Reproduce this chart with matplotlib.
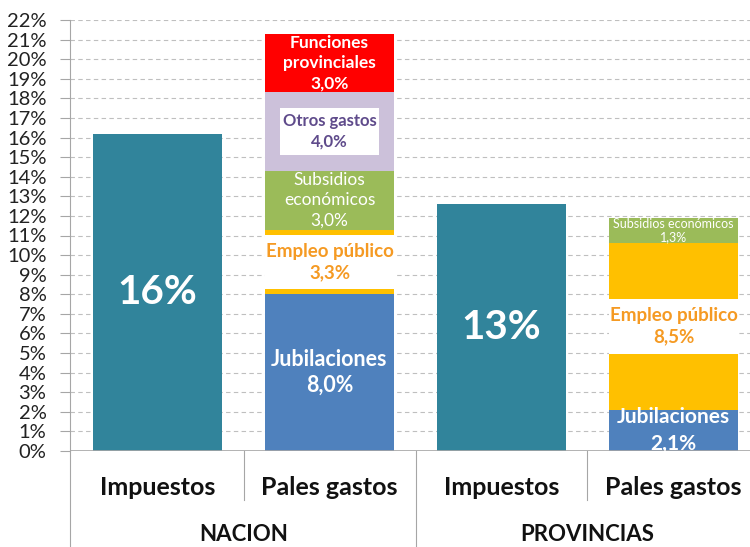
import numpy as np
import matplotlib.pyplot as plt

plt.rcParams['font.family'] = ['Lato', 'DejaVu Sans']

# data
groups = ['NACION', 'PROVINCIAS']
categories = ['Impuestos', 'Pales gastos', 'Impuestos', 'Pales gastos']
impuestos = [16.2, 12.6]
impuestos_labels = ['16%', '13%']

componentes = ['Jubilaciones', 'Empleo público', 'Subsidios económicos',
               'Otros gastos', 'Funciones provinciales']
nacion_gastos = [8.0, 3.3, 3.0, 4.0, 3.0]
provincias_gastos = [2.1, 8.5, 1.3]
nacion_nombres = ['Jubilaciones', 'Empleo público', 'Subsidios\neconómicos',
                  'Otros gastos', 'Funciones\nprovinciales']
provincias_nombres = ['Jubilaciones', 'Empleo público', 'Subsidios económicos']

# styles
teal = '#31849B'
seg_colors = ['#4F81BD', '#FFC000', '#9BBB59', '#CCC1DA', '#FF0000']
txt_colors = ['white', '#F59A23', 'white', '#5F4B8B', 'white']
txt_weight = ['bold', 'bold', 'normal', 'bold', 'bold']
nacion_sizes = [15.5, 13.5, 12.5, 12, 12.5]
provincias_sizes = [15, 13.5, 9]
nacion_spacing = [1.3, 1.3, 1.35, 1.35, 1.35]
provincias_spacing = [1.45, 1.3, 1.1]
width = 0.75
box_h = 2.8          # white label background for "Empleo público"
otros_box = (0.58, 2.4)

fig = plt.figure(figsize=(7.5, 5.47), dpi=100)
ax = fig.add_axes([70 / 750, 1 - 451 / 547, 680 / 750, 431 / 547])

x = np.arange(len(categories))
imp_x = x[[0, 2]]
gas_x = x[[1, 3]]

ax.bar(imp_x, impuestos, width, color=teal, zorder=2)
for xi, v, lab in zip(imp_x, impuestos, impuestos_labels):
    ax.text(xi, v / 2, lab, ha='center', va='center', color='white',
            fontsize=29, fontweight='bold', zorder=5)


def stack(xi, vals, nombres, sizes, spacing):
    bottom = 0.0
    for i, v in enumerate(vals):
        ax.bar(xi, v, width, bottom=bottom, color=seg_colors[i], zorder=2)
        mid = bottom + v / 2
        if i == 1:
            ax.bar(xi, box_h, width, bottom=mid - box_h / 2, color='white', zorder=3)
        if i == 3:
            ax.bar(xi, otros_box[1], otros_box[0], bottom=mid - otros_box[1] / 2,
                   color='white', zorder=3)
        lab = nombres[i] + '\n' + f'{v:.1f}'.replace('.', ',') + '%'
        ax.text(xi, mid, lab, ha='center', va='center', color=txt_colors[i],
                fontsize=sizes[i], fontweight=txt_weight[i], linespacing=spacing[i],
                zorder=5, clip_on=True)
        bottom += v


stack(gas_x[0], nacion_gastos, nacion_nombres, nacion_sizes, nacion_spacing)
stack(gas_x[1], provincias_gastos, provincias_nombres, provincias_sizes, provincias_spacing)

ax.set_xlim(-0.509, 3.445)
ax.set_ylim(0, 22)
ax.set_yticks(np.arange(0, 23, 1))
ax.set_yticklabels([f'{t}%' for t in range(0, 23)], fontsize=14.5, color='#222222')
ax.tick_params(axis='y', length=7, color='#A6A6A6', width=0.8, pad=10)
ax.set_xticks([])
ax.grid(axis='y', color='#BFBFBF', linestyle=(0, (4, 3)), linewidth=0.8, zorder=0)
for s in ['top', 'right', 'bottom']:
    ax.spines[s].set_visible(False)
ax.spines['left'].set_color('#A6A6A6')
ax.spines['left'].set_linewidth(0.8)
ax.axhline(0, color='#A6A6A6', linewidth=1.2, zorder=4)

# category axis
tr = ax.get_xaxis_transform()
ax.plot([-0.509, -0.509], [0, -0.223], color='#A6A6A6', lw=0.8, transform=tr, clip_on=False)
for xs in [0.5, 2.5]:
    ax.plot([xs, xs], [0, -0.114], color='#A6A6A6', lw=0.8, transform=tr, clip_on=False)
ax.plot([1.5, 1.5], [0, -0.223], color='#A6A6A6', lw=0.8, transform=tr, clip_on=False)
for xi, c in zip(x, categories):
    ax.text(xi, -0.084, c, ha='center', va='center', fontsize=18,
            fontweight='bold', color='#111111', transform=tr)
for gx, g in zip([0.5, 2.5], groups):
    ax.text(gx, -0.193, g, ha='center', va='center', fontsize=16,
            fontweight='bold', color='#111111', transform=tr)

fig.savefig('out.png', dpi=100)
